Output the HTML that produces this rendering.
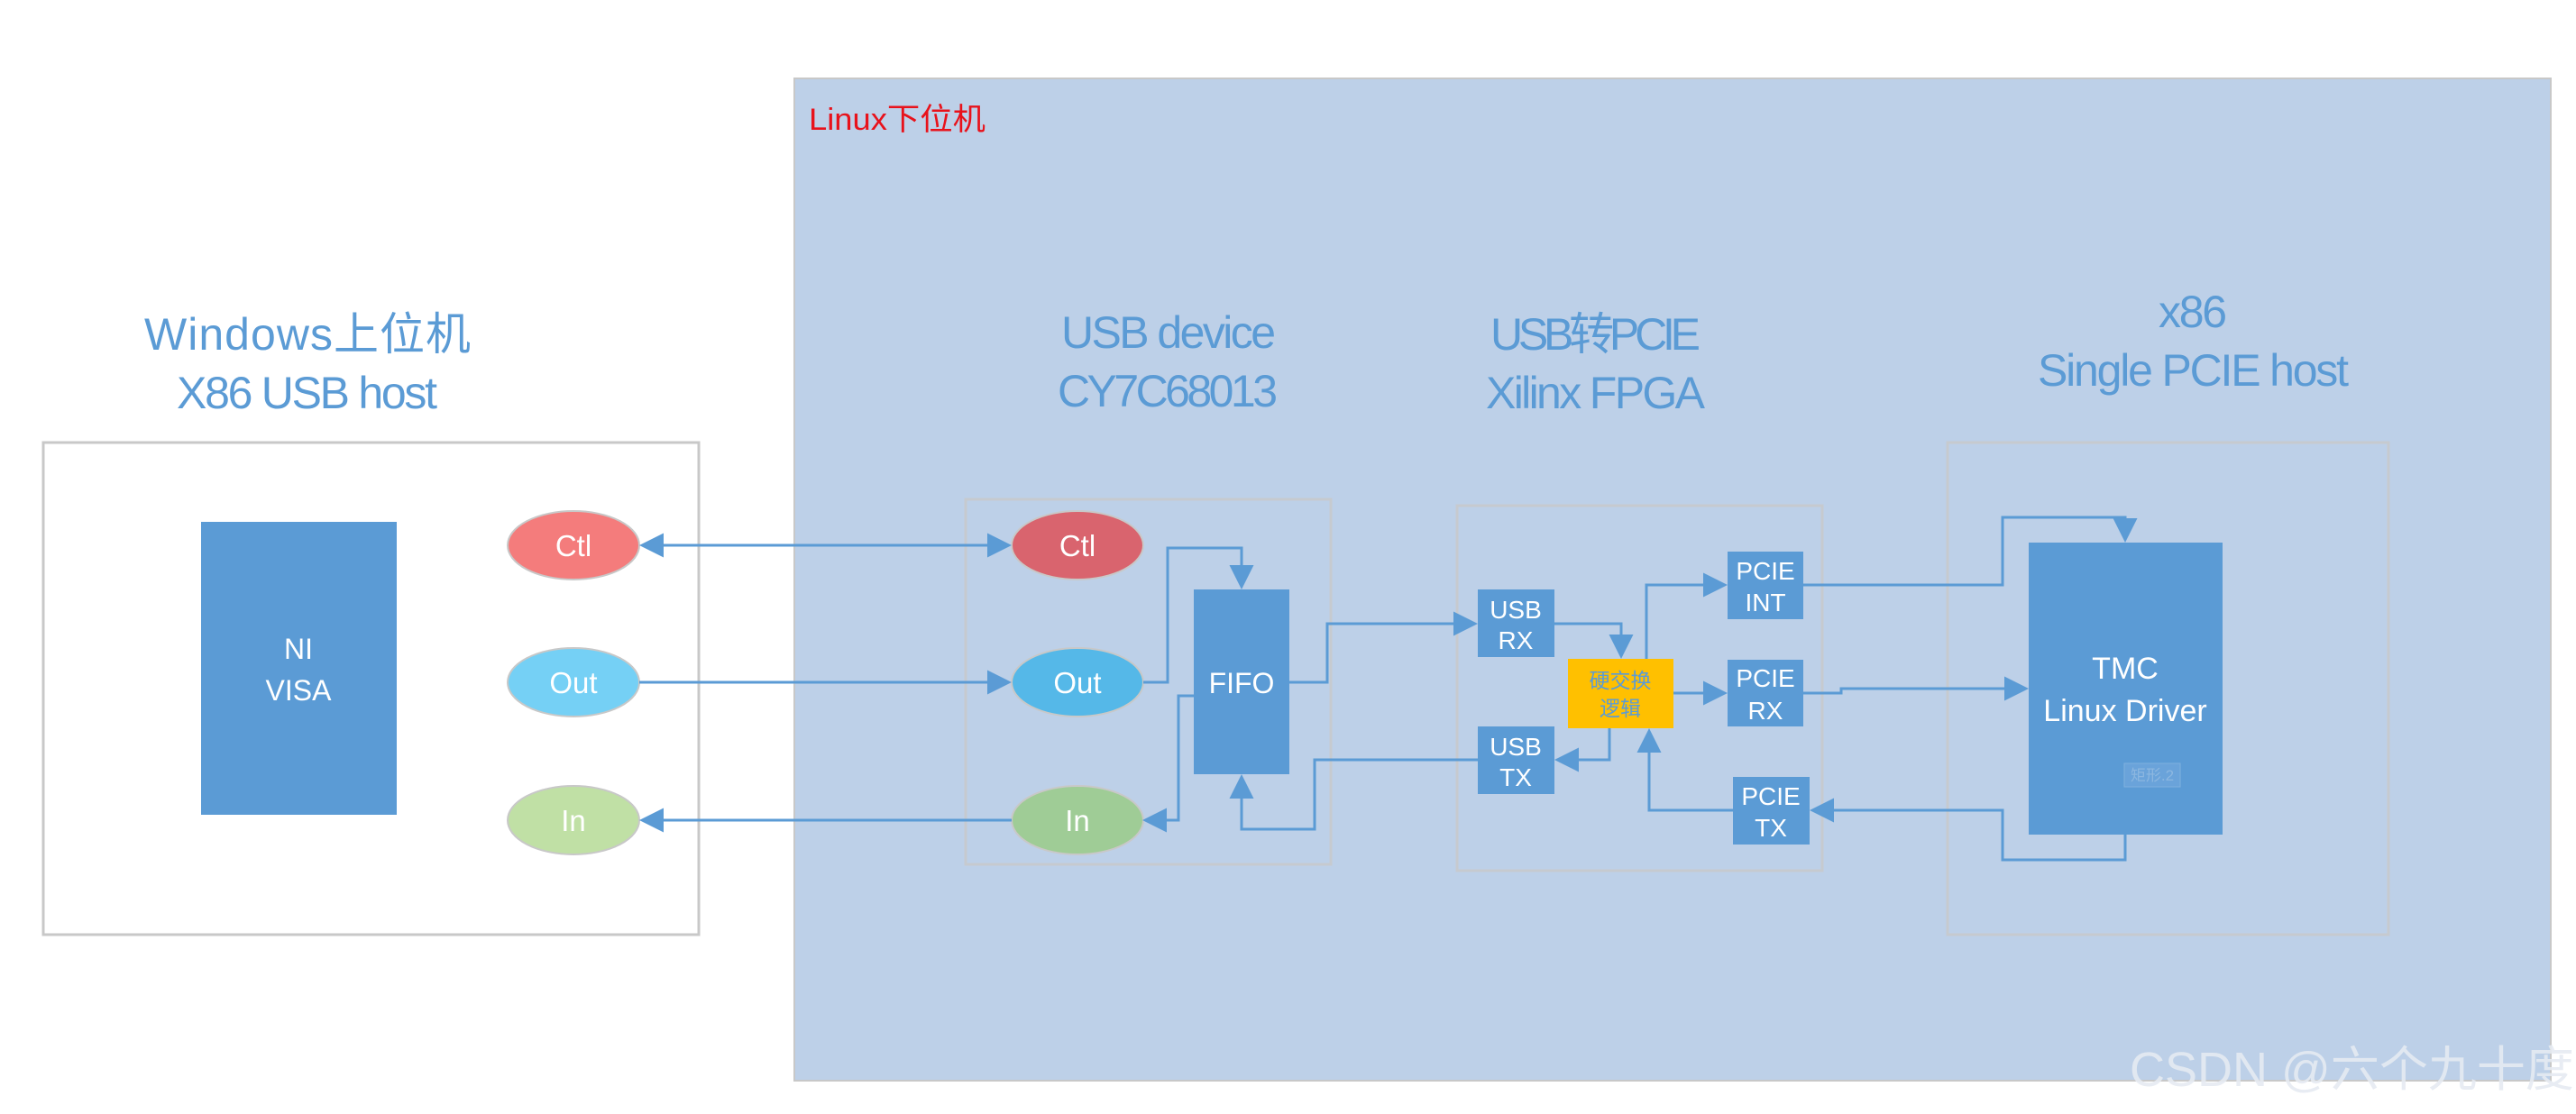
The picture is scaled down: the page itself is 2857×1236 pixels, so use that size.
<!DOCTYPE html>
<html><head><meta charset="utf-8"><style>
html,body{margin:0;padding:0;background:#fff}
svg{display:block}
text{font-family:"Liberation Sans","Noto Sans CJK SC",sans-serif}
</style></head><body>
<svg width="2857" height="1236" viewBox="0 0 2857 1236" xmlns="http://www.w3.org/2000/svg">
<defs>
<marker id="a" markerWidth="9" markerHeight="9" refX="8" refY="4.5" orient="auto" markerUnits="strokeWidth"><path d="M0,0 L9,4.5 L0,9 z" fill="#5b9bd5"/></marker>
<marker id="b" markerWidth="9" markerHeight="9" refX="1" refY="4.5" orient="auto" markerUnits="strokeWidth"><path d="M9,0 L0,4.5 L9,9 z" fill="#5b9bd5"/></marker>
</defs>
<rect x="881" y="87" width="1948" height="1112" fill="#bdd0e8" stroke="#c8c8c8" stroke-width="2"/>
<text x="897" y="144" font-size="34" fill="#e8121b" textLength="196" lengthAdjust="spacingAndGlyphs">Linux下位机</text>
<g fill="#5b9bd5" font-size="50" lengthAdjust="spacingAndGlyphs">
<text x="160" y="388" textLength="362">Windows上位机</text><text x="196" y="453" textLength="289">X86 USB host</text>
<text x="1177" y="386" textLength="238">USB device</text><text x="1173" y="451" textLength="244">CY7C68013</text>
<text x="1653" y="388" textLength="233">USB转PCIE</text><text x="1648" y="453" textLength="243">Xilinx FPGA</text>
<text x="2394" y="363" textLength="76">x86</text><text x="2260" y="428" textLength="345">Single PCIE host</text>
</g>
<rect x="48" y="491" width="727" height="546" fill="#fff" stroke="#c8c8c8" stroke-width="3"/>
<rect x="1071" y="554" width="405" height="405" fill="none" stroke="#c8c8c8" stroke-width="3" opacity=".8"/>
<rect x="1616" y="561" width="405" height="405" fill="none" stroke="#c8c8c8" stroke-width="3" opacity=".8"/>
<rect x="2160" y="491" width="489" height="546" fill="none" stroke="#c8c8c8" stroke-width="3" opacity=".8"/>
<g fill="#5b9bd5">
<rect x="223" y="579" width="217" height="325"/>
<rect x="1324" y="654" width="106" height="205"/>
<rect x="1639" y="654" width="85" height="75"/>
<rect x="1639" y="806" width="85" height="75"/>
<rect x="1916" y="612" width="84" height="75"/>
<rect x="1916" y="732" width="84" height="74"/>
<rect x="1922" y="862" width="85" height="75"/>
<rect x="2250" y="602" width="215" height="324"/>
</g>
<rect x="1739" y="731" width="117" height="77" fill="#ffc000"/>
<rect x="2356" y="847" width="62" height="26" fill="#6aa3da" stroke="#7fb0de"/>
<text x="2387" y="866" font-size="17" fill="#8cb7e0" text-anchor="middle">矩形.2</text>
<g fill="#fff" font-size="32" text-anchor="middle">
<text x="331" y="731">NI</text><text x="331" y="777">VISA</text>
<text x="1377" y="769">FIFO</text>
<text x="1681" y="686" font-size="28">USB</text><text x="1681" y="720" font-size="28">RX</text>
<text x="1681" y="838" font-size="28">USB</text><text x="1681" y="872" font-size="28">TX</text>
<text x="1958" y="643" font-size="28">PCIE</text><text x="1958" y="678" font-size="28">INT</text>
<text x="1958" y="762" font-size="28">PCIE</text><text x="1958" y="798" font-size="28">RX</text>
<text x="1964" y="893" font-size="28">PCIE</text><text x="1964" y="928" font-size="28">TX</text>
<text x="2357" y="753" font-size="34">TMC</text><text x="2357" y="800" font-size="34">Linux Driver</text>
</g>
<text x="1797" y="763" font-size="23" fill="#5b9bd5" text-anchor="middle">硬交换</text>
<text x="1797" y="794" font-size="23" fill="#5b9bd5" text-anchor="middle">逻辑</text>
<g stroke="#c8c8c8" stroke-width="2">
<ellipse cx="636" cy="605" rx="73" ry="38" fill="#f47c7c"/>
<ellipse cx="636" cy="757" rx="73" ry="38" fill="#75d0f5"/>
<ellipse cx="636" cy="910" rx="73" ry="38" fill="#c0e0a5"/>
<ellipse cx="1195" cy="605" rx="73" ry="38" fill="#d9646e"/>
<ellipse cx="1195" cy="757" rx="73" ry="38" fill="#55b8e8"/>
<ellipse cx="1195" cy="910" rx="73" ry="38" fill="#9fcc96"/>
</g>
<g fill="#fff" font-size="33" text-anchor="middle">
<text x="636" y="617">Ctl</text><text x="636" y="769">Out</text><text x="636" y="922">In</text>
<text x="1195" y="617">Ctl</text><text x="1195" y="769">Out</text><text x="1195" y="922">In</text>
</g>
<g stroke="#5b9bd5" stroke-width="3" fill="none">
<path d="M712,605 H1119" marker-start="url(#b)" marker-end="url(#a)"/>
<path d="M709,757 H1119" marker-end="url(#a)"/>
<path d="M1122,910 H712" marker-end="url(#a)"/>
<path d="M1268,757 H1295 V608 H1377 V651" marker-end="url(#a)"/>
<path d="M1324,772 H1307 V910 H1270" marker-end="url(#a)"/>
<path d="M1639,843 H1458 V920 H1377 V862" marker-end="url(#a)"/>
<path d="M1430,757 H1472 V692 H1636" marker-end="url(#a)"/>
<path d="M1724,692 H1798 V728" marker-end="url(#a)"/>
<path d="M1826,731 V649 H1913" marker-end="url(#a)"/>
<path d="M1856,769 H1913" marker-end="url(#a)"/>
<path d="M1785,808 V843 H1727" marker-end="url(#a)"/>
<path d="M1922,899 H1829 V811" marker-end="url(#a)"/>
<path d="M2000,649 H2221 V574 H2357 V599" marker-end="url(#a)"/>
<path d="M2000,769 H2042 V764 H2247" marker-end="url(#a)"/>
<path d="M2357,926 V954 H2221 V899 H2010" marker-end="url(#a)"/>
</g>
<text x="2362" y="1205" font-size="54" fill="#e6ebf2" opacity=".9">CSDN @六个九十度</text>
</svg>
</body></html>
